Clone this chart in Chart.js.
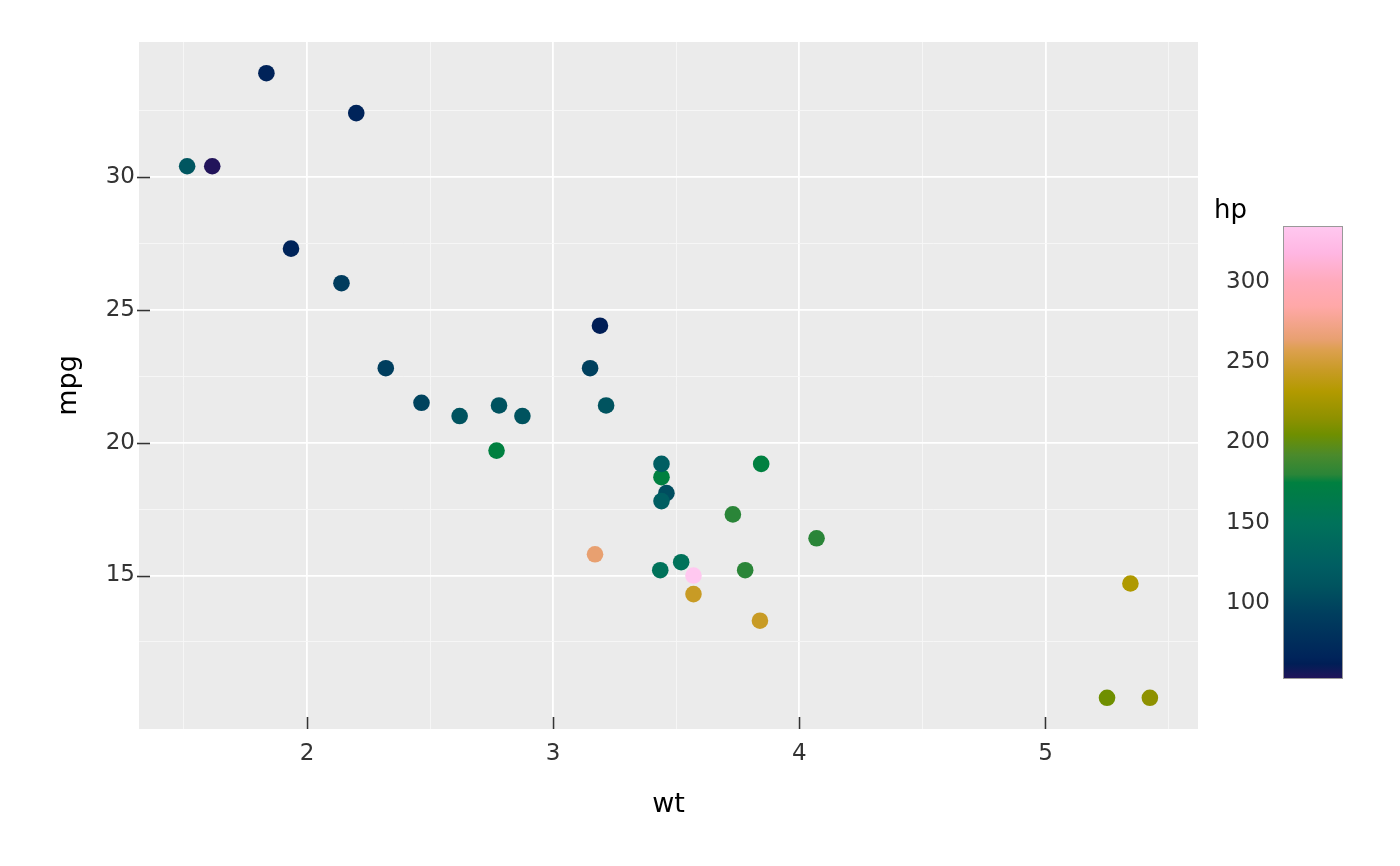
<!DOCTYPE html>
<html><head><meta charset="utf-8">
<script src="https://cdn.jsdelivr.net/npm/chart.js@4"></script>
<style>html,body{margin:0;padding:0;background:#fff;overflow:hidden}</style>
</head><body>
<canvas id="c" width="1400" height="866"></canvas>
<script>
// mtcars: wt vs mpg coloured by hp
const carNames = ["Mazda RX4","Mazda RX4 Wag","Datsun 710","Hornet 4 Drive","Hornet Sportabout","Valiant","Duster 360","Merc 240D","Merc 230","Merc 280","Merc 280C","Merc 450SE","Merc 450SL","Merc 450SLC","Cadillac Fleetwood","Lincoln Continental","Chrysler Imperial","Fiat 128","Honda Civic","Toyota Corolla","Toyota Corona","Dodge Challenger","AMC Javelin","Camaro Z28","Pontiac Firebird","Fiat X1-9","Porsche 914-2","Lotus Europa","Ford Pantera L","Ferrari Dino","Maserati Bora","Volvo 142E"];
const wt  = [2.620,2.875,2.320,3.215,3.440,3.460,3.570,3.190,3.150,3.440,3.440,4.070,3.730,3.780,5.250,5.424,5.345,2.200,1.615,1.835,2.465,3.520,3.435,3.840,3.845,1.935,2.140,1.513,3.170,2.770,3.570,2.780];
const mpg = [21.0,21.0,22.8,21.4,18.7,18.1,14.3,24.4,22.8,19.2,17.8,16.4,17.3,15.2,10.4,10.4,14.7,32.4,30.4,33.9,21.5,15.5,15.2,13.3,19.2,27.3,26.0,30.4,15.8,19.7,15.0,21.4];
const hp  = [110,110,93,110,175,105,245,62,95,123,123,180,180,180,205,215,230,66,52,65,97,150,150,245,175,66,91,113,264,175,335,109];

const xMajor = [2,3,4,5];
const xMinor = [1.5,2.5,3.5,4.5,5.5];
const yMajor = [15,20,25,30];
const yMinor = [12.5,17.5,22.5,27.5,32.5];
const hpTicks = [100,150,200,250,300];
const hpLimits = [52.5,335];

// colour scale stops (hp -> colour)
const stopHp    = [52.5,62,66,93,110,123,150,175,180,192,205,215,232,245,258,264,285,300,318,335];
const stopColor = ["#22145a","#001e56","#00245a","#003e5e","#00535f","#005e62","#00725a","#008040","#2a8538","#4a8a2c","#6f8f00","#8e9100","#b39a00","#c89b25","#dda050","#e8a070","#ffa8a8","#ffaabb","#ffb6e2","#ffc8f0"];

function hexToRgb(h){return [parseInt(h.slice(1,3),16),parseInt(h.slice(3,5),16),parseInt(h.slice(5,7),16)];}
function hpColor(v){
  if(v<=stopHp[0]) return stopColor[0];
  for(let i=1;i<stopHp.length;i++){
    if(v<=stopHp[i]){
      const t=(v-stopHp[i-1])/(stopHp[i]-stopHp[i-1]);
      const a=hexToRgb(stopColor[i-1]), b=hexToRgb(stopColor[i]);
      const c=a.map((x,k)=>Math.round(x+(b[k]-x)*t));
      return `rgb(${c[0]},${c[1]},${c[2]})`;
    }
  }
  return stopColor[stopColor.length-1];
}

const FONT = "'DejaVu Sans', sans-serif";
const TICK_COLOR = '#333333';
const xr = Math.max(...wt)-Math.min(...wt), yr = Math.max(...mpg)-Math.min(...mpg);
const xMin = Math.min(...wt)-0.05*xr, xMax = Math.max(...wt)+0.05*xr;
const yMin = Math.min(...mpg)-0.05*yr, yMax = Math.max(...mpg)+0.05*yr;

const panelPlugin = {
  id:'panel',
  beforeDraw(chart){
    const {ctx, chartArea:a} = chart;
    ctx.save();
    ctx.fillStyle='#ebebeb';
    ctx.fillRect(a.left,a.top,a.right-a.left,a.bottom-a.top);
    ctx.restore();
  },
  afterDatasetsDraw(chart){
    const {ctx, chartArea:a, scales:{x,y}} = chart;
    ctx.save();
    ctx.strokeStyle='#333333';
    ctx.lineWidth=1.6;
    xMajor.forEach(v=>{const px=Math.round(x.getPixelForValue(v))+0.5;ctx.beginPath();ctx.moveTo(px,a.bottom-12);ctx.lineTo(px,a.bottom);ctx.stroke();});
    yMajor.forEach(v=>{const py=Math.round(y.getPixelForValue(v))+0.5;ctx.beginPath();ctx.moveTo(a.left-2,py);ctx.lineTo(a.left+11,py);ctx.stroke();});
    ctx.restore();
  },
  afterDraw(chart){
    const ctx = chart.ctx;
    const bx=1283, bw=60, top=226, bot=679;
    const toY = v => bot-(v-hpLimits[0])*(bot-top)/(hpLimits[1]-hpLimits[0]);
    ctx.save();
    const g = ctx.createLinearGradient(0,bot,0,top);
    stopHp.forEach((h,i)=>g.addColorStop((h-hpLimits[0])/(hpLimits[1]-hpLimits[0]),stopColor[i]));
    ctx.fillStyle=g;
    ctx.fillRect(bx,top,bw,bot-top);
    ctx.strokeStyle='#999999';ctx.lineWidth=1;
    ctx.strokeRect(bx+0.5,top+0.5,bw-1,bot-top-1);
    ctx.fillStyle=TICK_COLOR;
    ctx.font="23px "+FONT;
    ctx.textAlign='right';ctx.textBaseline='middle';
    hpTicks.forEach(v=>ctx.fillText(String(v),1270,toY(v)));
    ctx.fillStyle='#000';
    ctx.font="26px "+FONT;
    ctx.textAlign='left';ctx.textBaseline='alphabetic';
    ctx.fillText('hp',1214,218);
    ctx.restore();
  }
};

const points = wt.map((w,i)=>({x:w,y:mpg[i],name:carNames[i],hp:hp[i]}));

new Chart(document.getElementById('c'),{
  type:'scatter',
  data:{datasets:[{
    label:'hp',
    data:points,
    pointRadius:8.3,
    pointHoverRadius:8.3,
    pointBorderWidth:0,
    pointBackgroundColor:hp.map(hpColor),
    pointBorderColor:hp.map(hpColor)
  }]},
  options:{
    responsive:false,
    animation:false,
    devicePixelRatio:1,
    layout:{padding:{top:42,right:202,bottom:0,left:0}},
    plugins:{legend:{display:false},tooltip:{enabled:false}},
    scales:{
      x:{
        type:'linear',min:xMin,max:xMax,
        afterFit(s){s.height=137;},
        afterBuildTicks(s){s.ticks=[...xMinor,...xMajor].sort((a,b)=>a-b).map(v=>({value:v}));},
        ticks:{autoSkip:false,maxRotation:0,padding:11,color:TICK_COLOR,font:{family:FONT,size:23},
          callback:v=>xMajor.includes(v)?String(v):''},
        grid:{drawTicks:false,color:c=>xMajor.includes(c.tick&&c.tick.value)?'#ffffff':'#f7f7f7',
          lineWidth:c=>xMajor.includes(c.tick&&c.tick.value)?1.8:0.9},
        border:{display:false},
        title:{display:true,text:'wt',color:'#000',font:{family:FONT,size:27},padding:{top:0,bottom:45}}
      },
      y:{
        type:'linear',min:yMin,max:yMax,
        afterFit(s){s.width=139;},
        afterBuildTicks(s){s.ticks=[...yMinor,...yMajor].sort((a,b)=>a-b).map(v=>({value:v}));},
        ticks:{autoSkip:false,padding:4,color:TICK_COLOR,font:{family:FONT,size:23},
          callback:v=>yMajor.includes(v)?String(v):''},
        grid:{drawTicks:false,color:c=>yMajor.includes(c.tick&&c.tick.value)?'#ffffff':'#f7f7f7',
          lineWidth:c=>yMajor.includes(c.tick&&c.tick.value)?1.8:0.9},
        border:{display:false},
        title:{display:true,text:'mpg',color:'#000',font:{family:FONT,size:27},padding:{top:53,bottom:0}}
      }
    }
  },
  plugins:[panelPlugin]
});
</script>
</body></html>
